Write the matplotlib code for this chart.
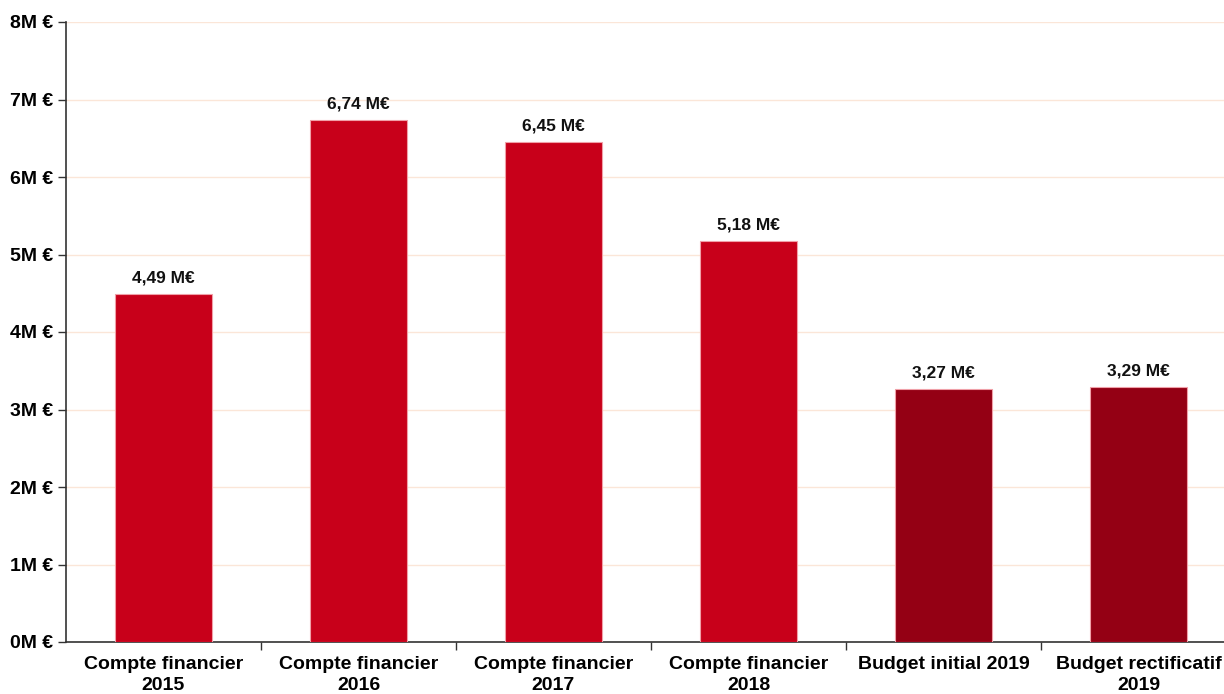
import matplotlib
matplotlib.use("Agg")
import matplotlib.pyplot as plt
from matplotlib.ticker import FixedLocator, FuncFormatter

categories = ["Compte financier\n2015", "Compte financier\n2016", "Compte financier\n2017",
              "Compte financier\n2018", "Budget initial 2019", "Budget rectificatif\n2019"]
values = [4.49, 6.74, 6.45, 5.18, 3.27, 3.29]
value_labels = ["4,49 M€", "6,74 M€", "6,45 M€", "5,18 M€", "3,27 M€", "3,29 M€"]
bar_colors = ["#C8001A", "#C8001A", "#C8001A", "#C8001A", "#940014", "#940014"]
y_ticks = [0, 1, 2, 3, 4, 5, 6, 7, 8]

plt.rcParams["font.family"] = ["Liberation Sans", "DejaVu Sans"]
plt.rcParams["font.weight"] = "bold"

fig = plt.figure(figsize=(12.24, 6.94), dpi=100)
ax = fig.add_axes([66 / 1224, 52 / 694, 1170 / 1224, 620 / 694])

x = list(range(len(categories)))
ax.bar(x, values, width=0.5, color=bar_colors, edgecolor="#F0A0A8", linewidth=0.8, zorder=3)

for xi, v, lab in zip(x, values, value_labels):
    ax.annotate(lab, (xi, v), xytext=(0, 6), textcoords="offset points",
                ha="center", va="bottom", fontsize=12.5, fontweight="bold", color="#111111")

ax.set_xlim(-0.5, len(categories) - 0.5)
ax.set_ylim(0, 8)
ax.yaxis.set_major_locator(FixedLocator(y_ticks))
ax.yaxis.set_major_formatter(FuncFormatter(lambda v, p: f"{int(v)}M €"))
ax.grid(axis="y", color="#FBE6D8", linewidth=1, zorder=0)
ax.set_axisbelow(True)

ax.set_xticks(x)
ax.set_xticklabels(categories, fontsize=14, fontweight="bold", linespacing=1.3)
ax.tick_params(axis="x", which="major", length=0, pad=10)
ax.set_xticks([i + 0.5 for i in x[:-1]], minor=True)
ax.tick_params(axis="x", which="minor", length=6, width=1, color="#333333")
ax.tick_params(axis="y", length=6, width=1, color="#333333", labelsize=14, pad=3)
for t in ax.get_yticklabels():
    t.set_fontweight("bold")

for s in ["top", "right"]:
    ax.spines[s].set_visible(False)
for s in ["left", "bottom"]:
    ax.spines[s].set_color("#333333")
    ax.spines[s].set_linewidth(1.2)

fig.savefig("out.png", dpi=100)
